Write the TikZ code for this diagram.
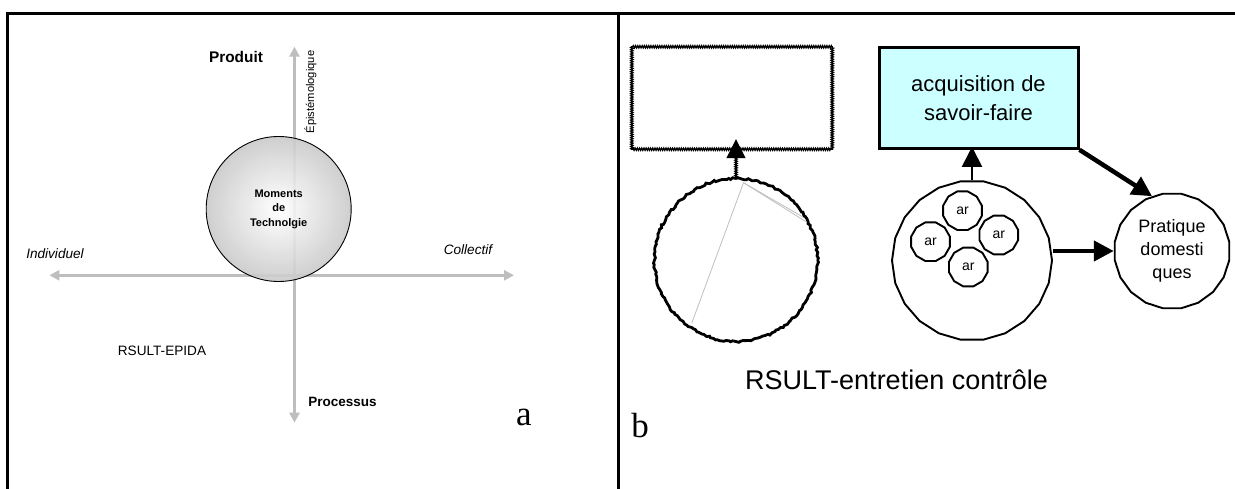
\documentclass[tikz,border=0pt]{standalone}
\usepackage{fontspec}
\setmainfont{Liberation Sans}
\newfontfamily\timesfont{Liberation Serif}
\usetikzlibrary{positioning, arrows.meta, shapes.geometric, decorations.pathmorphing}
\definecolor{axisgray}{RGB}{190,190,190}
\definecolor{boxcyan}{RGB}{204,255,255}

\begin{document}
\begin{tikzpicture}[x=1pt, y=-1pt,
    frame/.style={draw, line width=2.6pt},
    axis/.style={draw=axisgray, line width=3.5pt, {Triangle[length=10pt,width=10pt]}-{Triangle[length=10pt,width=10pt]}},
    lbl/.style={inner sep=0pt, anchor=base, font=\fontsize{13.6}{16}\selectfont},
    panel/.style={inner sep=0pt, anchor=base, font=\timesfont\fontsize{35}{38}\selectfont},
    stitch/.style={draw, line width=1.3pt, decorate, decoration={zigzag, segment length=2.2pt, amplitude=1.1pt}},
    rough/.style={draw, line width=2.8pt, decorate, decoration={random steps, segment length=2.5pt, amplitude=1pt}},
    poly/.style={regular polygon, draw, line width=1.9pt, inner sep=0pt},
    thickarrow/.style={line width=4.5pt, -{Triangle[length=20pt,width=20pt]}},
    thinarrow/.style={line width=2pt, -{Triangle[length=20pt,width=20pt]}}
]
    \useasboundingbox (0,0) rectangle (1235,489);

    % frame
    \coordinate (tl) at (7.3,13.3);
    \coordinate (tr) at (1236,13.3);
    \coordinate (bl) at (7.3,490);
    \coordinate (mt) at (618.3,13.3);
    \coordinate (mb) at (618.3,490);
    \draw[frame] (bl) -- (tl) -- (tr);
    \draw[frame] (mt) -- (mb);

    % panel a
    \coordinate (top) at (294.5,46.7);
    \coordinate (bot) at (294.5,422.7);
    \coordinate (lft) at (49.4,275.3);
    \coordinate (rgt) at (514,275.3);
    \draw[axis] (top) -- (bot);
    \draw[axis] (lft) -- (rgt);

    \node[circle, draw, line width=0.9pt, minimum size=145pt, inner sep=0pt,
          inner color=white, outer color=black!21, fill opacity=0.9, text opacity=1,
          align=center, font=\bfseries\fontsize{11}{14.5}\selectfont] (mom) at (278.7,209)
          {Moments\\de\\Technolgie};

    \node[lbl, font=\bfseries\fontsize{15.4}{18}\selectfont] (prod) at (236,62.7) {Produit};
    \node[inner sep=0pt, rotate=90, font=\fontsize{11.2}{13}\selectfont] (epi) at (310.5,92) {Épistémologique};
    \node[lbl, font=\itshape\fontsize{13.6}{16}\selectfont] (ind) at (55,258.3) {Individuel};
    \node[lbl, font=\itshape\fontsize{13.6}{16}\selectfont] (col) at (468,255) {Collectif};
    \node[lbl] (epida) at (162,355) {RSULT-EPIDA};
    \node[lbl, font=\bfseries\fontsize{13.5}{16}\selectfont] (proc) at (342.5,406) {Processus};
    \node[panel] (pa) at (524,425) {a};

    % panel b
    \node[minimum width=200pt, minimum height=102pt] (lr) at (732,98) {};
    \draw[line width=1pt] (lr.south west) rectangle (lr.north east);
    \draw[stitch] (lr.south west) rectangle (lr.north east);
    \node[circle, minimum size=163pt, inner sep=0pt] (lc) at (736,260) {};
    \draw[rough] (lc.center) circle (81.5pt);
    \coordinate (g1) at (743.5,182.7);
    \coordinate (g2) at (691.7,323.3);
    \coordinate (g3) at (803,217);
    \coordinate (g4) at (806.5,222);
    \draw[axisgray, line width=0.8pt] (g2) -- (g1) -- (g3);
    \draw[axisgray, line width=0.8pt] (g1) -- (g4);
    \draw[stitch] (lc.north) -- (lc.north |- lr.south);
    \draw[line width=1.2pt, shorten >=-10pt, -{Triangle[length=19pt,width=19pt]}] (lc.north) -- (lc.north |- lr.south);

    \node[draw, fill=boxcyan, line width=3pt, minimum width=199pt, minimum height=101pt,
          align=center, font=\fontsize{22}{29}\selectfont] (acq) at (978.5,97.8)
          {acquisition de\\savoir-faire};
    \node[poly, regular polygon sides=22, minimum size=160pt] (bc) at (972,260.5) {};
    \node[poly, regular polygon sides=12, minimum size=40pt, font=\fontsize{14}{16}\selectfont] (ar1) at (962.5,210.7) {ar};
    \node[poly, regular polygon sides=12, minimum size=40pt, font=\fontsize{14}{16}\selectfont] (ar2) at (930.5,241.7) {ar};
    \node[poly, regular polygon sides=12, minimum size=40pt, font=\fontsize{14}{16}\selectfont] (ar3) at (998.8,235) {ar};
    \node[poly, regular polygon sides=12, minimum size=40pt, font=\fontsize{14}{16}\selectfont] (ar4) at (968.3,267) {ar};
    \node[poly, regular polygon sides=20, minimum size=116pt, align=center,
          font=\fontsize{18}{23}\selectfont] (pd) at (1172,251) {Pratique\\domesti\\ques};

    \draw[thinarrow, shorten >=-3pt] (bc.north) -- (bc.north |- acq.south);
    \draw[thickarrow] (bc.east |- pd.west) -- (pd.west);
    \draw[thickarrow] (acq.south east) -- (pd.110);

    \node[inner sep=0pt, anchor=base west, font=\fontsize{27}{32}\selectfont] (ent) at (745,389.3) {RSULT-entretien contrôle};
    \node[panel] (pb) at (640,437) {b};
\end{tikzpicture}
\end{document}
